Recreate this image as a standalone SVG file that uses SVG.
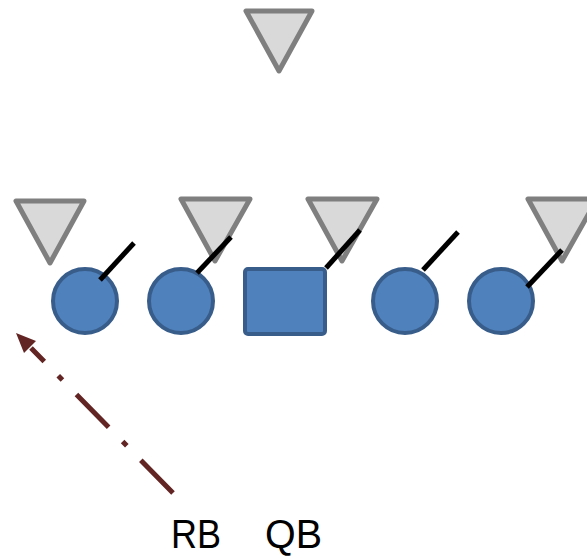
<svg xmlns="http://www.w3.org/2000/svg" width="587" height="556" viewBox="0 0 587 556">
  <style>
    .def { fill: #D9D9D9; stroke: #7F7F7F; stroke-width: 5; stroke-linejoin: round; }
    .off { fill: #4F81BD; stroke: #385D8A; stroke-width: 4; }
    .block { stroke: #000; stroke-width: 5; }
    .route { stroke: #632523; stroke-width: 5; fill: none; stroke-dasharray: 46 20 6 20; }
    .head { fill: #632523; }
    .label { font-family: "Liberation Sans", Arial, sans-serif; font-size: 41px; fill: #000; }
  </style>

  <!-- defenders -->
  <g id="def-safety"><polygon class="def" points="246,11 312,11 279,71"/></g>
  <g id="def-1"><polygon class="def" points="16,201 84,201 50,263"/></g>
  <g id="def-2"><polygon class="def" points="181,199 250,199 215,261"/></g>
  <g id="def-3"><polygon class="def" points="308,199 377,199 342,261"/></g>
  <g id="def-4"><polygon class="def" points="528,199 597,199 562,261"/></g>

  <!-- offensive line -->
  <g id="ol-1"><circle class="off" cx="85" cy="301" r="32"/></g>
  <g id="ol-2"><circle class="off" cx="181" cy="301" r="32"/></g>
  <g id="center"><rect class="off" x="245" y="269" width="80" height="65" rx="3"/></g>
  <g id="ol-3"><circle class="off" cx="405" cy="301" r="32"/></g>
  <g id="ol-4"><circle class="off" cx="501" cy="301" r="32"/></g>

  <!-- connectors: blocks and the back's route -->
  <g id="connectors">
    <line class="block" x1="100" y1="280" x2="134" y2="243"/>
    <line class="block" x1="197" y1="273" x2="231" y2="237"/>
    <line class="block" x1="326" y1="268" x2="360" y2="230"/>
    <line class="block" x1="423" y1="270" x2="458" y2="232"/>
    <line class="block" x1="527" y1="287" x2="562" y2="250"/>
    <line class="route" x1="173" y1="493" x2="31" y2="348"/>
    <polygon class="head" points="16,333 36,341 24,353"/>
  </g>

  <g id="labels">
    <text class="label" x="171" y="548" textLength="50" lengthAdjust="spacingAndGlyphs">RB</text>
    <text class="label" x="265" y="548" textLength="57" lengthAdjust="spacingAndGlyphs">QB</text>
  </g>
</svg>
